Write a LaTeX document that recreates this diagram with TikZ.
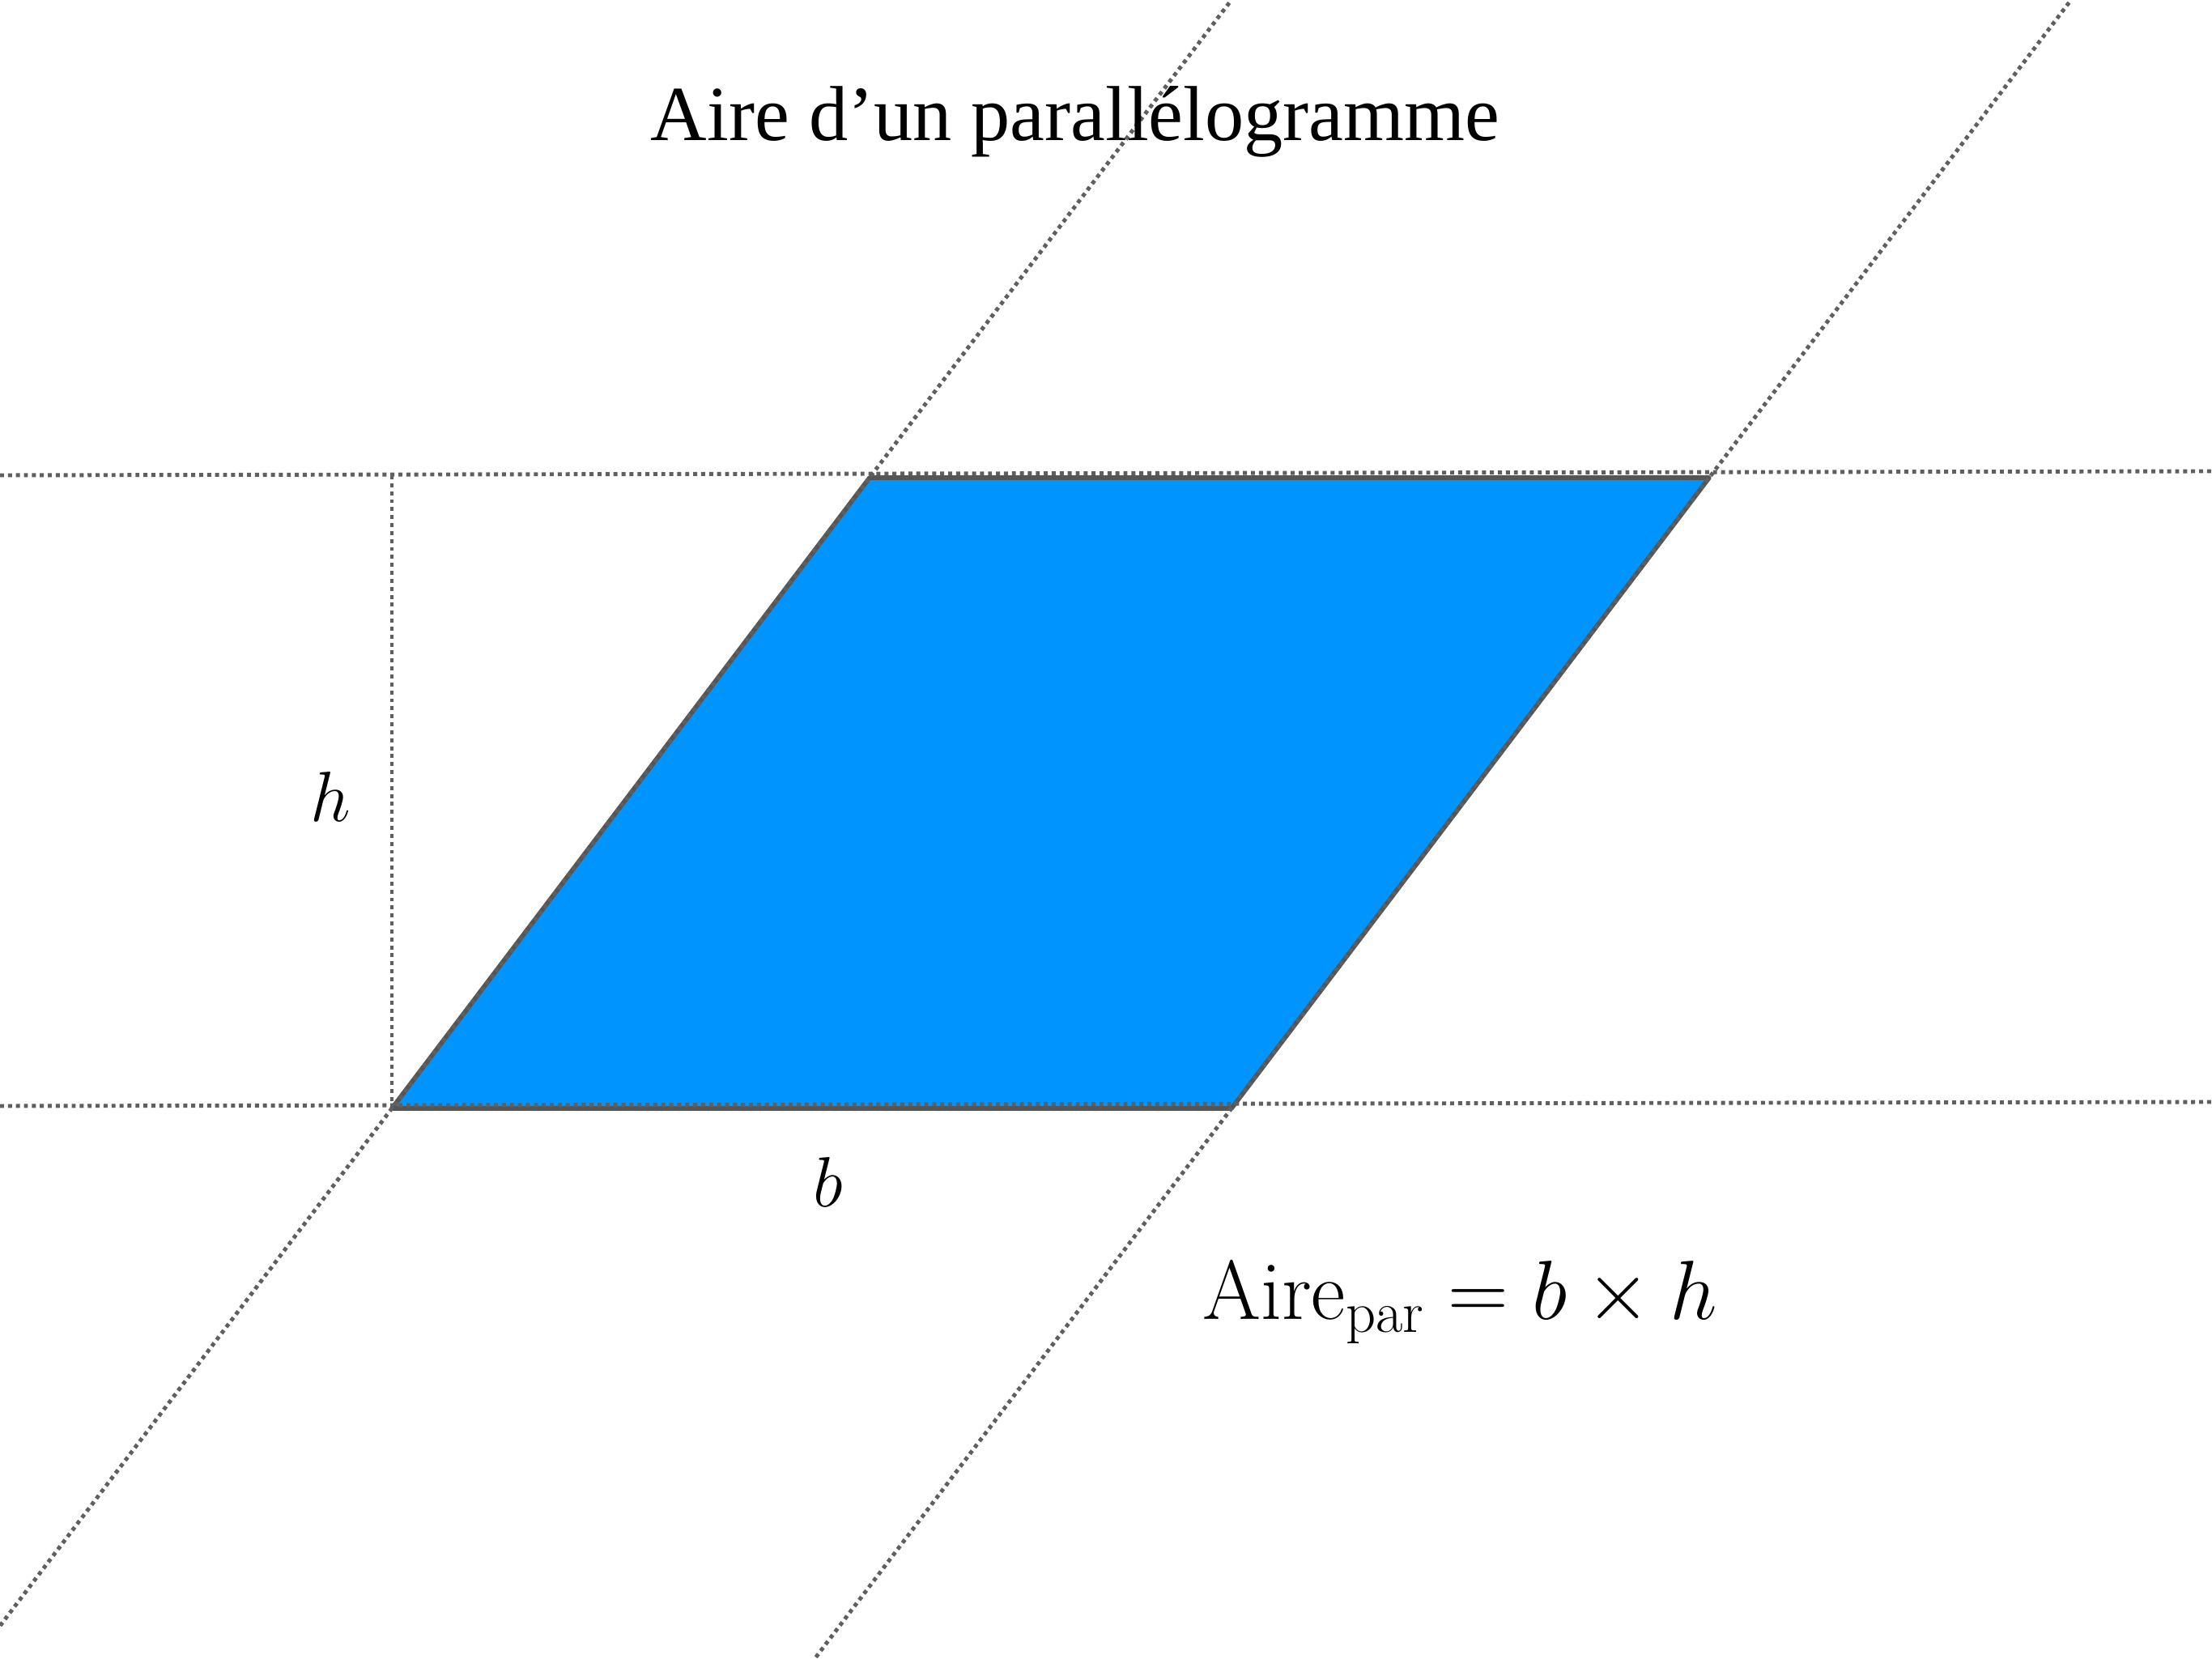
\RequirePackage{fix-cm}
\documentclass[tikz,border=0pt]{standalone}
\usepackage{amsmath, amssymb}
\usepackage{fontspec}
\usepackage{xcolor}
\usepackage{tikz}
\usetikzlibrary{calc}
\newfontfamily\titlefont{Liberation Serif}
\definecolor{parblue}{RGB}{0,148,255}
\definecolor{edgegray}{RGB}{85,85,85}
\definecolor{dotgray}{RGB}{95,95,95}

\begin{document}
\begin{tikzpicture}
  \tikzstyle{parguide} = [draw=dotgray, line width=1.4pt, dash pattern=on 1.4pt off 1.4pt]
  \tikzstyle{parshape} = [draw=edgegray, fill=parblue, line width=1.6pt, line join=round]
  \tikzstyle{parlabel} = [font=\fontsize{25}{30}\selectfont, inner sep=0pt]

  \useasboundingbox (0, 0) rectangle (27.32, 20.48);

  \coordinate (A) at (4.84, 6.79);
  \coordinate (B) at (15.21, 6.79);
  \coordinate (C) at (21.11, 14.58);
  \coordinate (D) at (10.74, 14.58);
  \coordinate (hTop) at (4.84, 14.61);

  \filldraw [parshape] (A) -- (B) -- (C) -- (D) -- cycle;

  \draw [parguide] (0, 14.61) -- (27.32, 14.66);
  \draw [parguide] (0, 6.82) -- (27.32, 6.87);
  \draw [parguide] (hTop) -- (A);
  \draw [parguide] ($(A)!-0.82!(D)$) -- ($(A)!1.755!(D)$);
  \draw [parguide] ($(B)!-0.87!(C)$) -- ($(B)!1.755!(C)$);

  \node [parlabel, font=\fontsize{27.4}{32}\selectfont] (title) at (13.28, 18.98) {\titlefont Aire d’un parallélogramme};
  \node [parlabel] (hlab) at (4.08, 10.64) {$h$};
  \node [parlabel] (blab) at (10.23, 5.88) {$b$};
  \node [parlabel, font=\fontsize{29.5}{35}\selectfont] (formula) at (18.03, 4.40) {$\text{Aire}_{\text{par}} = b \times h$};
\end{tikzpicture}
\end{document}
